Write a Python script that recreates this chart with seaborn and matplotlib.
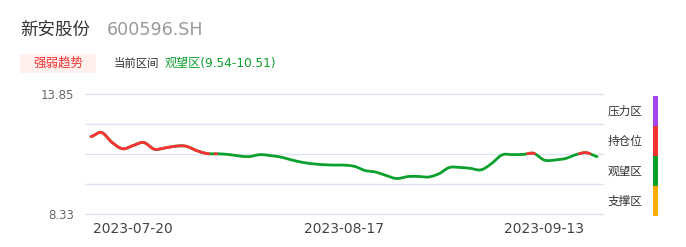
import numpy as np
import pandas as pd
import seaborn as sns
import matplotlib
matplotlib.use("Agg")
import matplotlib.pyplot as plt
from matplotlib.patches import FancyBboxPatch

sns.set_theme(style="white")
plt.rcParams['font.family'] = ['DejaVu Sans', 'Noto Sans CJK SC']

# ---- data ----
dates = pd.bdate_range("2023-07-14", "2023-09-20").strftime("%Y-%m-%d").tolist()
prices = [11.89, 12.08, 11.62, 11.33, 11.48, 11.62, 11.31, 11.37, 11.45, 11.45,
          11.25, 11.11, 11.10, 11.07, 11.00, 10.97, 11.06, 11.02, 10.95, 10.82,
          10.71, 10.64, 10.60, 10.58, 10.58, 10.52, 10.33, 10.26, 10.10, 9.96,
          10.05, 10.06, 10.03, 10.18, 10.47, 10.47, 10.43, 10.36, 10.65, 11.05,
          11.06, 11.07, 11.12, 10.81, 10.81, 10.88, 11.06, 11.15, 10.97]
tick_dates = ["2023-07-20", "2023-08-17", "2023-09-13"]
y_ticks = [8.33, 13.85]
grid_levels = [8.33, 9.71, 11.09, 12.47, 13.85]
hold_threshold = 11.10
zone_names = ["压力区", "持仓位", "观望区", "支撑区"]
zone_colors = ["#a146f0", "#f23333", "#0aa02c", "#ffab00"]
title_name = "新安股份"
title_code = "600596.SH"
badge_text = "强弱趋势"
range_label = "当前区间"
range_value = "观望区(9.54-10.51)"

# ---- smoothing (Catmull-Rom through data points) ----
y = np.array(prices)
n = len(y)
sub = 12
xs, ys = [], []
for i in range(n - 1):
    p0 = y[max(i - 1, 0)]; p1 = y[i]; p2 = y[i + 1]; p3 = y[min(i + 2, n - 1)]
    t = np.linspace(0, 1, sub, endpoint=False)
    seg = 0.5 * ((2 * p1) + (-p0 + p2) * t + (2 * p0 - 5 * p1 + 4 * p2 - p3) * t ** 2
                 + (-p0 + 3 * p1 - 3 * p2 + p3) * t ** 3)
    xs.append(i + t); ys.append(seg)
xs.append([n - 1]); ys.append([y[-1]])
xs = np.concatenate(xs); ys = np.concatenate(ys)
df = pd.DataFrame({"x": xs, "price": ys})

fig = plt.figure(figsize=(6.86, 2.47), dpi=100)
ax = fig.add_axes([85 / 686, 1 - 214 / 247, (603 - 85) / 686, (214 - 94) / 247])

for g in grid_levels:
    ax.axhline(g, color="#dfe4f2", lw=1, zorder=0, clip_on=False)

sns.lineplot(data=df, x="x", y="price", ax=ax, color="#0aa02c", lw=2.0, zorder=2)
red = np.where(ys > hold_threshold, ys, np.nan)
ax.plot(xs, red, color="#ff3333", lw=2.0, zorder=3, solid_capstyle="round")

ax.set_xlim(-0.57, n - 1 + 0.57)
ax.set_ylim(8.33, 13.85)
ax.set_xticks([dates.index(d) for d in tick_dates])
ax.set_xticklabels(tick_dates, fontsize=10, color="#444444")
ax.set_yticks(y_ticks)
ax.set_yticklabels([f"{v:.2f}" for v in y_ticks], fontsize=8.5, color="#666666")
ax.tick_params(axis="x", length=0, pad=6)
ax.tick_params(axis="y", length=0, pad=8)
ax.set_xlabel(""); ax.set_ylabel("")
for s in ax.spines.values():
    s.set_visible(False)

# zone legend bar
bar_ax = fig.add_axes([653 / 686, 1 - 216 / 247, 5 / 686, 120 / 247])
bar_ax.set_xlim(0, 1); bar_ax.set_ylim(0, 4); bar_ax.axis("off")
for k, (nm, c) in enumerate(zip(zone_names, zone_colors)):
    bar_ax.bar(0.5, 1, bottom=3 - k, width=1, color=c, linewidth=0, edgecolor="none")
    fig.text(625 / 686, 1 - (111 + 30 * k) / 247, nm, fontsize=8.4, color="#333333",
             ha="center", va="center")

# header
fig.text(20 / 686, 1 - 30 / 247, title_name, fontsize=12.6, color="#333333", va="center")
fig.text(107 / 686, 1 - 30 / 247, title_code, fontsize=12.6, color="#999999", va="center")
fig.patches.append(FancyBboxPatch((20 / 686, 1 - 73 / 247), 76 / 686, 19 / 247,
                                  boxstyle="square,pad=0", transform=fig.transFigure,
                                  facecolor="#fff0ee", edgecolor="none"))
fig.text(58 / 686, 1 - 63 / 247, badge_text, fontsize=9, color="#f23333", ha="center", va="center")
fig.text(114 / 686, 1 - 63 / 247, range_label, fontsize=8.2, color="#333333", va="center")
fig.text(165 / 686, 1 - 63 / 247, range_value, fontsize=8.7, color="#0aa02c", va="center")

fig.savefig("out.png", dpi=100)
